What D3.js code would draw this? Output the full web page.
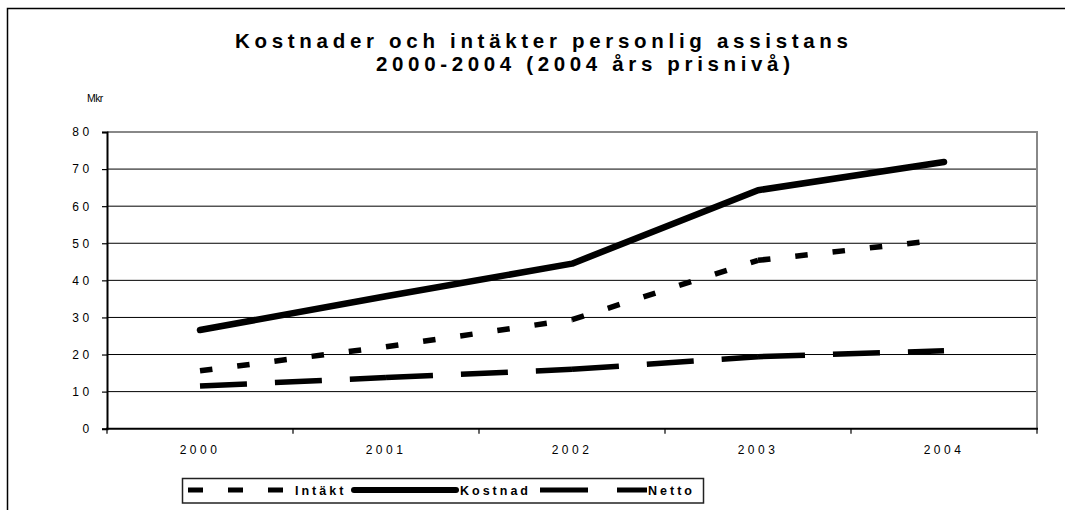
<!DOCTYPE html>
<meta charset="utf-8">
<style>
body { margin: 0; background: #fff; }
text { font-family: "Liberation Sans", Arial, sans-serif; fill: #000; }
.grid line { stroke: #000; stroke-width: 1; }
.tick-label { font-size: 12px; letter-spacing: 3.5px; fill: #000; }
.legend-label { font-size: 12.5px; font-weight: bold; letter-spacing: 3px; }
</style>
<svg width="1065" height="510"></svg>
<script src="https://d3js.org/d3.v7.min.js"></script>
<script>
// data (Mkr, 2004 price level)
var years = ["2000", "2001", "2002", "2003", "2004"];
var intakt = [15.6, 22.1, 29.4, 45.4, 51.0];
var kostnad = [26.6, 35.7, 44.5, 64.3, 71.9];
var netto = [11.5, 13.8, 16.0, 19.4, 21.0];
var yTicks = [0, 10, 20, 30, 40, 50, 60, 70, 80];

var svg = d3.select("svg");

// outer chart frame (runs off the right/bottom edge)
svg.append("path")
    .attr("d", "M7.5,520V8.5H1075")
    .attr("fill", "none")
    .attr("stroke", "#000")
    .attr("stroke-width", 1.5);

var x = d3.scaleBand()
    .domain(years)
    .range([107, 1037])
    .padding(0);

var y = d3.scaleLinear()
    .domain([0, 80])
    .range([428.7, 132]);

var cx = function(i) { return x(years[i]) + x.bandwidth() / 2; };

// title
var title = svg.append("g").style("font-weight", "bold").style("font-size", "20.5px");
title.append("text")
    .attr("x", 235).attr("y", 48)
    .attr("textLength", 613).attr("lengthAdjust", "spacing")
    .text("Kostnader och intäkter personlig assistans");
title.append("text")
    .attr("x", 376).attr("y", 71)
    .attr("textLength", 414).attr("lengthAdjust", "spacing")
    .text("2000-2004 (2004 års prisnivå)");

svg.append("text")
    .attr("x", 87).attr("y", 101.5)
    .style("font-size", "10.5px")
    .style("letter-spacing", "-0.6px")
    .text("Mkr");

// gridlines
svg.append("g")
    .attr("class", "grid")
    .selectAll("line")
    .data(yTicks.filter(function(d) { return d > 0 && d < 80; }))
    .enter().append("line")
    .attr("x1", 107).attr("x2", 1037)
    .attr("y1", function(d) { return y(d); })
    .attr("y2", function(d) { return y(d); });

// grey plot border top/right
svg.append("path")
    .attr("d", "M107," + y(80) + "H1037V" + y(0))
    .attr("fill", "none")
    .attr("stroke", "#888")
    .attr("stroke-width", 2);

// y axis
var yAxis = svg.append("g")
    .attr("transform", "translate(107,0)")
    .call(d3.axisLeft(y).tickValues(yTicks).tickSize(5).tickPadding(13));
yAxis.attr("font-family", null).attr("font-size", null);
yAxis.select(".domain").attr("stroke", "#000").attr("stroke-width", 2);
yAxis.selectAll(".tick line").attr("stroke", "#000").attr("stroke-width", 1.2);
yAxis.selectAll(".tick text")
    .attr("class", "tick-label")
    .attr("dx", "0.3em");

// x axis: ticks at category boundaries
svg.append("line")
    .attr("x1", 106).attr("x2", 1038)
    .attr("y1", y(0)).attr("y2", y(0))
    .attr("stroke", "#000").attr("stroke-width", 2);
svg.append("g")
    .selectAll("line")
    .data(years.concat(["end"]))
    .enter().append("line")
    .attr("x1", function(d, i) { return 107 + i * x.bandwidth(); })
    .attr("x2", function(d, i) { return 107 + i * x.bandwidth(); })
    .attr("y1", y(0)).attr("y2", y(0) + 5)
    .attr("stroke", "#000").attr("stroke-width", 1.2);
svg.append("g")
    .selectAll("text")
    .data(years)
    .enter().append("text")
    .attr("class", "tick-label")
    .attr("x", function(d, i) { return cx(i); })
    .attr("y", 453.5)
    .attr("text-anchor", "middle")
    .text(function(d) { return d; });

// series lines
var line = d3.line()
    .x(function(d, i) { return cx(i); })
    .y(function(d) { return y(d); });

// dashed series: Excel restarts the dash pattern on every segment
function dashed(values, dash, width) {
  var g = svg.append("g");
  d3.range(values.length - 1).forEach(function(i) {
    g.append("line")
      .attr("x1", cx(i)).attr("y1", y(values[i]))
      .attr("x2", cx(i + 1)).attr("y2", y(values[i + 1]))
      .attr("stroke", "#000")
      .attr("stroke-width", width)
      .attr("stroke-dasharray", dash);
  });
}

dashed(netto, "47,28", 5.5);
dashed(intakt, "12.5,25", 5.5);

svg.append("path")
    .datum(kostnad)
    .attr("d", line)
    .attr("fill", "none")
    .attr("stroke", "#000")
    .attr("stroke-width", 6.5)
    .attr("stroke-linecap", "round")
    .attr("stroke-linejoin", "round");

// legend
var leg = svg.append("g");
leg.append("rect")
    .attr("x", 182.5).attr("y", 478.5)
    .attr("width", 521).attr("height", 24.5)
    .attr("fill", "#fff")
    .attr("stroke", "#222").attr("stroke-width", 1.5);

var ly = 490;
leg.append("line")
    .attr("x1", 188).attr("x2", 288).attr("y1", ly).attr("y2", ly)
    .attr("stroke", "#000").attr("stroke-width", 5)
    .attr("stroke-dasharray", "15,25");
leg.append("text").attr("class", "legend-label")
    .attr("x", 295).attr("y", 495).text("Intäkt");

leg.append("line")
    .attr("x1", 354).attr("x2", 456).attr("y1", ly).attr("y2", ly)
    .attr("stroke", "#000").attr("stroke-width", 6)
    .attr("stroke-linecap", "round");
leg.append("text").attr("class", "legend-label")
    .attr("x", 460).attr("y", 495).text("Kostnad");

leg.append("line")
    .attr("x1", 540).attr("x2", 647).attr("y1", ly).attr("y2", ly)
    .attr("stroke", "#000").attr("stroke-width", 5)
    .attr("stroke-dasharray", "48,29");
leg.append("text").attr("class", "legend-label")
    .attr("x", 648).attr("y", 495).text("Netto");
</script>
